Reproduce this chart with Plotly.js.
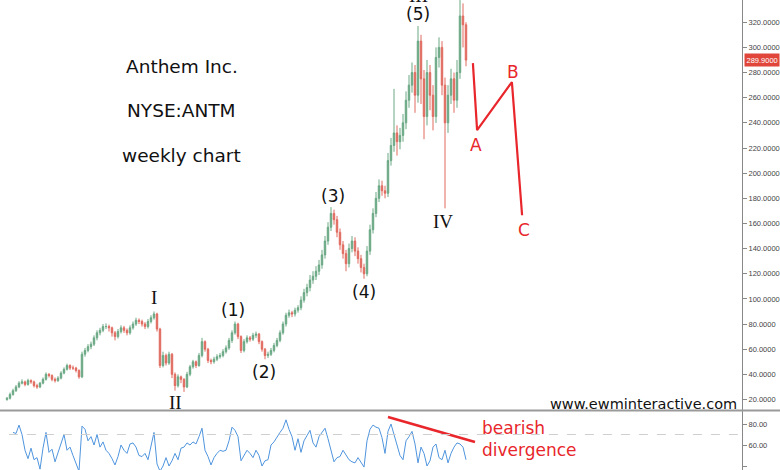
<!DOCTYPE html>
<html>
<head>
<meta charset="utf-8">
<script src="https://cdn.plot.ly/plotly-3.0.1.min.js"></script>
<style>html,body{margin:0;padding:0;background:#fff;}#chart{width:780px;height:470px;}</style>
</head>
<body>
<div id="chart"></div>
<script>
// Price candles (one candle per ~6.6 weeks)
const opens = [20,21,24,27,30,33,34,32,35,34, 31,30,33,36,40,39,36,35,37,41, 44,47,45,45,43,38,56,59,62,64, 69,73,75,78,78,77,73,70,74,77, 75,73,77,80,83,82,80,78,82,85, 88,76,47,55,49,56,40,31,38,36, 30,40,46,50,47,55,66,60,51,50, 52,54,55,58,61,67,73,80,70,59, 66,69,68,71,72,66,60,55,56,59, 63,67,73,80,87,89,88,91,93,99, 105,109,115,118,122,127,135,146,157,168, 163,153,143,136,128,140,146,138,132,125, 120,138,155,168,180,190,186,184,210,222, 232,225,230,240,258,270,280,262,305,275, 245,280,262,245,292,300,270,240,262,275, 258,280,325,318];
const highs = [22,25.5,28.5,31.5,34.5,36,35,36.5,36,35, 32.5,34,37.5,41.5,41,40,37.5,38.5,42.5,45.5, 48.5,48,47,46,44,58,61,64,66,71, 75,77,80,80.5,79.5,78,74.5,76,79,78.5, 76.5,79,82,85,84.5,83.5,81.5,84,87,90, 89,77,58,56.5,58,57,41.5,40,39,37, 42,47.5,51.5,51,57,69,67,61,52.5,54, 56,57,60,63,69,75,82,81,71,68, 71,70.5,73,74,73,67,61,58,61,65, 69,75,82,89,91.5,90.5,93,95,102,108, 112,119,122,126,131,139,150,161,173,171, 166,156,146,139,144,150,149,141,135,128, 142,159,172,185,195,194,190,216,228,267, 238,236,247,265,278,288,286,317,310,282, 290,286,270,300,308,305,276,270,283,280, 290,348,335,320];
const lows = [19,20,23,26,29,32,30.5,31,32.5,29.5, 28.5,29,32,35,37.5,34.5,33.5,34,36,40, 43,43.5,43.5,41.5,36.5,37,54,57.5,60,62.5, 67,71,73.5,76,74,70,67,68.5,72.5,73, 71,71.5,75.5,78.5,80,78,76,76.5,80.5,83.5, 74,45,45.5,47,47.5,37,27,29.5,33,26, 29,38.5,44.5,45,46,53.5,58,49,48,48.5, 50.5,52.5,53.5,56.5,59.5,65,71.5,68,57,57.5, 64.5,66,66.5,69,64,58,52,53,54.5,57.5, 61.5,65.5,71.5,78,85,85.5,86,89,91,97, 102,106,112,115,119,124,132,143,154,159, 149,139,132,122,125,137,134,128,121,116, 118,135,152,165,177,182,180,181,206,217, 214,219,225,235,252,264,248,256,255,227, 238,250,234,240,284,262,172,232,255,248, 252,275,300,285];
const closes = [21,24,27,30,33,34,32,35,34,31, 30,33,36,40,39,36,35,37,41,44, 47,45,45,43,38,56,59,62,64,69, 73,75,78,78,77,73,70,74,77,75, 73,77,80,83,82,80,78,82,85,88, 76,47,55,49,56,40,31,38,36,30, 40,46,50,47,55,66,60,51,50,52, 54,55,58,61,67,73,80,70,59,66, 69,68,71,72,66,60,55,56,59,63, 67,73,80,87,89,88,91,93,99,105, 109,115,118,122,127,135,146,157,168,163, 153,143,136,128,140,146,138,132,125,120, 138,155,168,180,190,186,184,210,222,232, 225,230,240,258,270,280,262,305,275,245, 280,262,245,292,300,270,240,262,275,258, 280,325,318,289.9];
// Oscillator (lower panel)
const rsi = [null,null,72,71,79,70,55,47,57,46, 48,37,57,72,53,56,44,52,62,70, 55,58,50,42,35,78,75,64,68,60, 70,58,63,55,52,47,41,49,60,55, 52,61,62,58,50,49,52,46,60,72, 42,35,40,48,40,45,52,46,57,58, 62,60,63,61,68,76,55,49,41,48, 52,55,54,55,64,77,74,68,45,50, 55,52,48,55,50,40,45,46,60,63, 68,72,76,84,75,68,55,66,53,64, 69,74,62,58,68,72,76,66,56,44, 48,49,55,50,46,44,43,48,44,39, 64,75,79,77,76,67,52,73,80,70, 58,50,46,64,68,73,61,43,58,52, 40,45,58,61,48,46,55,43,52,58, 62,61,58,46];
const lastPrice = 289.9;
// Projected A-B-C path
const projX = [155.3, 156.7, 168.3, 171.7];
const projY = [287.5, 234.2, 272.4, 166.5];
// Divergence line on oscillator
const divX = [127, 156];
const divY = [86.7, 62.9];

const idx = closes.map((_, i) => i);
const RED = '#e8262b';

const traces = [
  {type:'candlestick', x: idx, open: opens, high: highs, low: lows, close: closes,
   xaxis:'x', yaxis:'y', whiskerwidth:0, hoverinfo:'skip', showlegend:false,
   increasing:{line:{color:'#6aa884', width:1}, fillcolor:'#6aa884'},
   decreasing:{line:{color:'#e06a5f', width:1}, fillcolor:'#e06a5f'}},
  {type:'scatter', mode:'lines', x: projX, y: projY, xaxis:'x', yaxis:'y',
   line:{color:RED, width:2.2}, hoverinfo:'skip', showlegend:false, cliponaxis:false},
  {type:'scatter', mode:'lines', x: idx, y: rsi, xaxis:'x', yaxis:'y2',
   line:{color:'#4f95de', width:1}, hoverinfo:'skip', showlegend:false},
  {type:'scatter', mode:'lines', x: divX, y: divY, xaxis:'x', yaxis:'y2',
   line:{color:RED, width:2.5}, hoverinfo:'skip', showlegend:false}
];

const sans = 'DejaVu Sans, Verdana, sans-serif';
const serif = 'Liberation Serif, Times New Roman, serif';
function lab(text, x, y, font, extra) {
  return Object.assign({text:text, x:x, y:y, xref:'x', yref:'y', showarrow:false,
    font:font, xanchor:'center', yanchor:'middle'}, extra || {});
}
const waveSans = {family:sans, size:17, color:'#111'};
const waveSerif = {family:serif, size:19, color:'#111'};
const titleF = {family:sans, size:18.5, color:'#111'};
const redF = {family:sans, size:17, color:RED};

const annotations = [
  lab('Anthem Inc.', 58.3, 285.1, titleF),
  lab('NYSE:ANTM', 58.3, 250.1, titleF),
  lab('weekly chart', 58.3, 214.3, titleF),
  lab('I', 49, 101.2, waveSerif),
  lab('II', 56, 17.6, waveSerif),
  lab('(1)', 75.3, 90.9, waveSans),
  lab('(2)', 85.5, 41.5, waveSans),
  lab('(3)', 108.7, 181.6, waveSans),
  lab('(4)', 119, 105.2, waveSans),
  lab('(5)', 137, 326.5, waveSans),
  lab('III', 137, 1.0106, waveSerif, {yref:'paper'}),
  lab('IV', 145.3, 161.7, waveSerif),
  lab('A', 156.3, 222.2, redF),
  lab('B', 168.7, 280.4, redF),
  lab('C', 172.3, 154.6, redF),
  lab('www.ewminteractive.com', 212.3, 16.8, {family:sans, size:14.5, color:'#111'}),
  lab('bearish', 157.7, 76.2, {family:sans, size:17, color:RED}, {yref:'y2', xanchor:'left'}),
  lab('divergence', 157.7, 55.2, {family:sans, size:17, color:RED}, {yref:'y2', xanchor:'left'}),
  {text:'289.9000', x:1, xref:'paper', y:lastPrice, yref:'y', xanchor:'left', yanchor:'middle',
   showarrow:false, bgcolor:'#e0473a', borderpad:1.5, xshift:2,
   font:{family:'Liberation Sans, Arial, sans-serif', size:7.5, color:'#fff'}}
];

const tickF = {family:'Liberation Sans, Arial, sans-serif', size:7.5, color:'#444'};
const layout = {
  width:780, height:470,
  margin:{l:0, r:38, t:0, b:0, pad:0},
  paper_bgcolor:'#fff', plot_bgcolor:'#fff',
  showlegend:false,
  xaxis:{range:[-2.333, 245], anchor:'y2', showgrid:false, zeroline:false, showline:false,
         showticklabels:false, ticks:'', rangeslider:{visible:false}, fixedrange:true},
  yaxis:{domain:[0.1266, 1], range:[11.24, 337.7], side:'right', showgrid:false, zeroline:false,
         showline:true, linecolor:'#888', linewidth:1, ticks:'outside', ticklen:4, tickcolor:'#888',
         dtick:20, tick0:0, tickformat:'.4f', tickfont:tickF, fixedrange:true},
  yaxis2:{domain:[0, 0.1255], range:[36.2, 92.4], side:'right', showgrid:false, zeroline:false,
         showline:true, linecolor:'#888', linewidth:1, ticks:'outside', ticklen:4, tickcolor:'#888',
         tickvals:[40,60,80], tickformat:'.2f', tickfont:tickF, fixedrange:true},
  shapes:[
    {type:'line', xref:'paper', yref:'paper', x0:0, x1:1.06, y0:0.1266, y1:0.1266,
     line:{color:'#9a9a9a', width:2}},
    {type:'line', xref:'paper', yref:'y2', x0:0.012, x1:1, y0:70, y1:70,
     line:{color:'#cfcfcf', width:1, dash:'dash'}}
  ],
  annotations: annotations
};

Plotly.newPlot('chart', traces, layout, {displayModeBar:false, staticPlot:true});
</script>
</body>
</html>
